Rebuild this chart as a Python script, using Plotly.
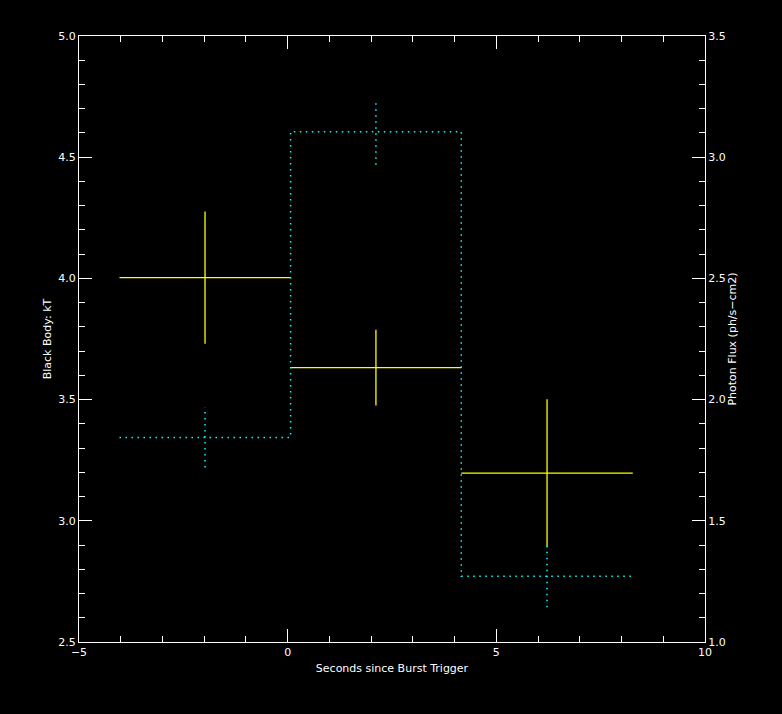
import plotly.graph_objects as go

# Time bins (seconds since burst trigger)
bin_edges = [-4.03, 0.07, 4.16, 8.27]
bin_centers = [-1.98, 2.115, 6.215]
bin_halfwidths = [2.05, 2.045, 2.055]

# Black body kT (left axis)
kt_values = [4.003, 3.632, 3.197]
kt_errors = [0.273, 0.156, 0.304]

# Photon flux (right axis)
flux_values = [1.844, 3.105, 1.271]
flux_errors = [0.124, 0.136, 0.128]

YELLOW = "#ffff00"
CYAN = "#00ffff"
FONT = dict(family="DejaVu Sans", size=11, color="white")

fig = go.Figure()

# Flux step line (dotted cyan)
step_y = flux_values + [flux_values[-1]]
fig.add_trace(go.Scatter(
    x=bin_edges, y=step_y, mode="lines", line_shape="hv",
    line=dict(color=CYAN, width=1.5, dash="1.5px,4.5px"),
    yaxis="y2", showlegend=False, hoverinfo="skip"))

# Flux error bars (dotted cyan verticals)
ex, ey = [], []
for c, f, e in zip(bin_centers, flux_values, flux_errors):
    ex += [c, c, None]
    ey += [f - e, f + e, None]
fig.add_trace(go.Scatter(
    x=ex, y=ey, mode="lines",
    line=dict(color=CYAN, width=1.5, dash="1.5px,4.5px"),
    yaxis="y2", showlegend=False, hoverinfo="skip"))

# kT crosses (yellow)
fig.add_trace(go.Scatter(
    x=bin_centers, y=kt_values, mode="markers",
    marker=dict(size=1, color=YELLOW, opacity=0),
    error_x=dict(type="data", array=bin_halfwidths, color=YELLOW, thickness=1.3, width=0),
    error_y=dict(type="data", array=kt_errors, color=YELLOW, thickness=1.3, width=0),
    showlegend=False, hoverinfo="skip"))

axis_common = dict(
    showgrid=False, zeroline=False, showline=True, linecolor="white", linewidth=1.2,
    ticks="inside", ticklen=13, tickwidth=1, tickcolor="white",
    tickfont=FONT,
)

fig.update_layout(
    width=782, height=714,
    paper_bgcolor="black", plot_bgcolor="black",
    margin=dict(l=79, r=77, t=36, b=72),
    font=FONT,
    xaxis=dict(
        range=[-5, 10], tickmode="linear", tick0=-5, dtick=5,
        mirror="ticks",
        minor=dict(dtick=1, ticklen=6, tickcolor="white", ticks="inside", tickwidth=1),
        title=dict(text="Seconds since Burst Trigger", font=FONT, standoff=6),
        tickformat="d",
        **axis_common),
    yaxis=dict(
        range=[2.5, 5.0], tickmode="linear", tick0=2.5, dtick=0.5, tickformat=".1f",
        minor=dict(dtick=0.1, ticklen=6, tickcolor="white", ticks="inside", tickwidth=1),
        title=dict(text="Black Body: kT", font=FONT, standoff=4),
        **axis_common),
    yaxis2=dict(
        range=[1.0, 3.5], tickmode="linear", tick0=1.0, dtick=0.5, tickformat=".1f",
        overlaying="y", side="right",
        minor=dict(dtick=0.1, ticklen=6, tickcolor="white", ticks="inside", tickwidth=1),
        title=dict(text="Photon Flux (ph/s\u2212cm2)", font=FONT, standoff=1),
        **axis_common),
)

fig.write_html(
    "out.html",
    config={"displayModeBar": False},
    post_script="document.body.style.margin='0';document.body.style.background='black';"
                "document.body.style.overflow='hidden';",
)
